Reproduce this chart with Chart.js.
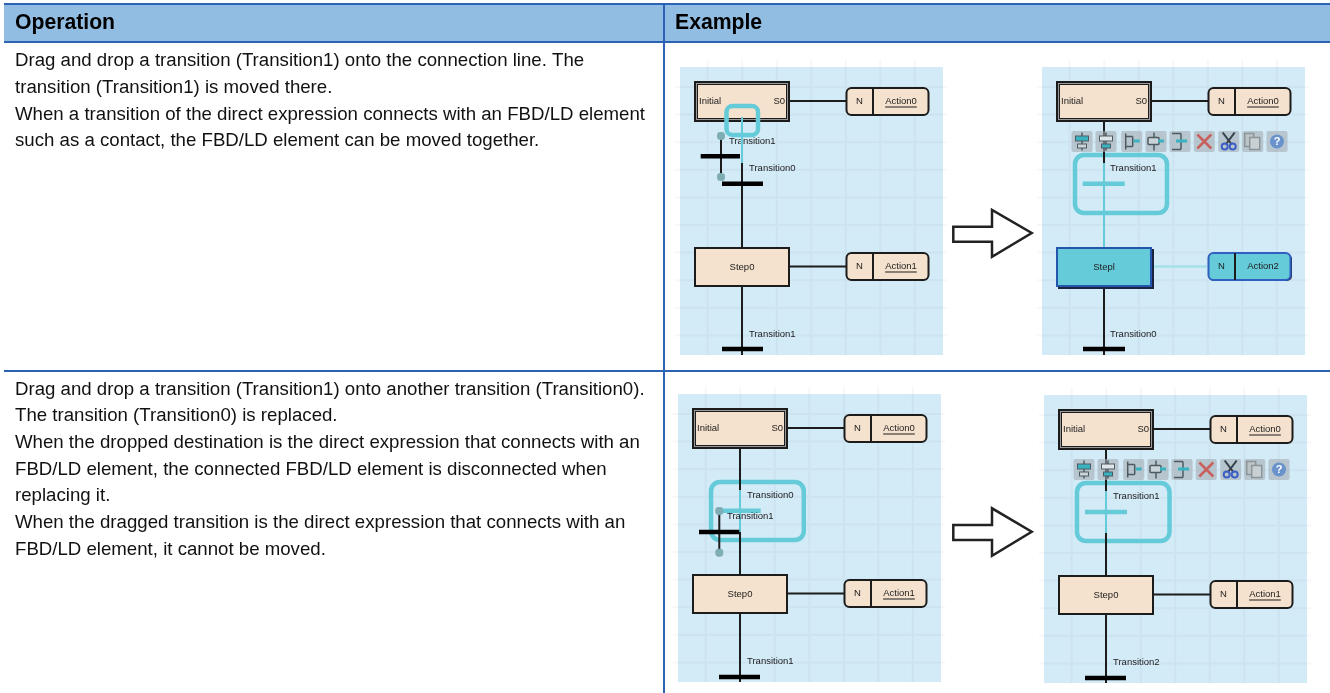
<!DOCTYPE html>
<html>

<head>
    <meta charset="utf-8">
    <script src="https://cdn.jsdelivr.net/npm/chart.js@4/dist/chart.umd.min.js"></script>
    <style>
        html, body { margin: 0; padding: 0; background: #fff; }
        canvas { display: block; }
    </style>
</head>

<body>
    <canvas id="sheet" width="1330" height="693"></canvas>
    <script>
        // table text
        const headerLabels = ['Operation', 'Example'];
        const headerX = [15, 675];
        const rowOneLines = [
            'Drag and drop a transition (Transition1) onto the connection line. The',
            'transition (Transition1) is moved there.',
            'When a transition of the direct expression connects with an FBD/LD element',
            'such as a contact, the FBD/LD element can be moved together.'
        ];
        const rowOneY = [60.5, 87.5, 114.5, 140.5];
        const rowTwoLines = [
            'Drag and drop a transition (Transition1) onto another transition (Transition0).',
            'The transition (Transition0) is replaced.',
            'When the dropped destination is the direct expression that connects with an',
            'FBD/LD element, the connected FBD/LD element is disconnected when',
            'replacing it.',
            'When the dragged transition is the direct expression that connects with an',
            'FBD/LD element, it cannot be moved.'
        ];
        const rowTwoY = [389.5, 415.5, 442.5, 469.5, 495.5, 522.5, 549.5];

        // table rules: x1, y1, x2, y2
        const tableRules = [
            [4, 4, 1330, 4],
            [4, 42, 1330, 42],
            [4, 371, 1330, 371],
            [664, 4, 664, 693]
        ];

        // top-left corner of each screenshot
        const panelX = [680, 1042, 678, 1044];
        const panelY = [67, 67, 394, 395];
        const panelW = 262;
        const panelH = 288;
        const gridXs = [27.7, 62.3, 96.8, 131.3, 165.8, 200.3, 234.8];
        const gridYs = [20, 47.6, 75.2, 102.8, 130.4, 158, 185.6, 213.2, 240.8, 268.4];

        // transition labels per panel: text, x, y (panel units)
        const panelLabels = [
            [['Transition0', 69, 101], ['Transition1', 69, 267]],
            [['Transition1', 68, 101], ['Transition0', 68, 267]],
            [['Transition0', 69, 101], ['Transition1', 49, 122], ['Transition1', 69, 267]],
            [['Transition1', 69, 101], ['Transition2', 69, 267]]
        ];
        const ghostLabelA = ['Transition1', 49, 74.5];
        const stepNames = ['Step0', 'Stepl', 'Step0', 'Step0'];
        const topActions = ['Action0', 'Action0', 'Action0', 'Action0'];
        const lowerActions = ['Action1', 'Action2', 'Action1', 'Action1'];

        // connectors per panel: x1, y1, x2, y2 (panel units)
        const blackLines = [
            [[62, 96, 62, 180], [62, 220, 62, 288], [41, 69, 41, 110], [110, 34, 166, 34], [110, 199.5, 166, 199.5]],
            [[62, 55, 62, 96], [62, 220, 62, 288], [110, 34, 166, 34]],
            [[62, 55, 62, 96], [62, 138, 62, 180], [62, 220, 62, 288], [41.3, 117, 41.3, 158.7], [110, 34, 166, 34], [110, 199.5, 166, 199.5]],
            [[62, 55, 62, 96], [62, 138, 62, 180], [62, 220, 62, 288], [110, 34, 166, 34], [110, 199.5, 166, 199.5]]
        ];
        const blackBars = [
            [[42, 116.7, 83, 116.7], [20.7, 89.3, 60, 89.3], [42, 282, 83, 282]],
            [[41, 282, 83, 282]],
            [[21, 138, 61.3, 138], [41, 283, 82, 283]],
            [[41, 283, 82, 283]]
        ];
        const tealLines = [
            [[62, 55, 62, 96]],
            [[62, 96, 62, 180]],
            [[62, 96, 62, 138]],
            [[62, 96, 62, 138]]
        ];
        const tealBars = [
            [],
            [[40.7, 116.7, 82.7, 116.7]],
            [[41.3, 116.7, 82.7, 116.7]],
            [[41, 117, 83, 117]]
        ];
        const ghostDots = [
            [[41, 69], [41, 110]],
            [],
            [[41.3, 117], [41.3, 158.7]],
            []
        ];
        // drag frames: x1, y1, x2, y2, radius
        const dragFrames = [
            [46.5, 39, 78, 68, 6],
            [33, 88, 125, 146, 9],
            [33, 88, 125.8, 146, 9],
            [33, 88, 125.5, 146, 9]
        ];
        const activeConnector = [110, 199.5, 165, 199.5];

        // big outline arrows between the screenshots
        const arrowOne = [[953.3, 226.7], [992, 226.7], [992, 210], [1031.7, 233], [992, 256.7], [992, 241.7], [953.3, 241.7], [953.3, 226.7]];
        const arrowTwo = [[953.3, 525], [992, 525], [992, 508.3], [1031.7, 531.7], [992, 555.7], [992, 540], [953.3, 540], [953.3, 525]];

        // toolbar shown in panels 1 and 3
        const toolbarX = [40, 64, 89.7, 114, 138, 162.3, 186.7, 210.7, 235];
        const toolbarPanels = [1, 3];

        const boxFill = '#f5e2ce';
        const ink = '#1c1c1c';
        const teal = '#65cbd9';

        function segments(list, ox, oy, out) {
            list.forEach(function (s) {
                out.push({ x: ox + s[0], y: oy + s[1] }, { x: ox + s[2], y: oy + s[3] }, { x: null, y: null });
            });
        }

        function collect(source) {
            const out = [];
            source.forEach(function (list, i) { segments(list, panelX[i], panelY[i], out); });
            return out;
        }

        function gridPoints() {
            const out = [];
            panelX.forEach(function (ox, i) {
                const oy = panelY[i];
                gridXs.forEach(function (g) { segments([[g, -7, g, panelH]], ox, oy, out); });
                gridYs.forEach(function (g) { segments([[-5, g, panelW + 5, g]], ox, oy, out); });
            });
            return out;
        }

        function lineSet(label, data, color, width, order) {
            return { label: label, data: data, borderColor: color, borderWidth: width, order: order, showLine: true, pointRadius: 0, spanGaps: false, borderCapStyle: 'butt' };
        }

        const dotData = [];
        ghostDots.forEach(function (list, i) {
            list.forEach(function (d) { dotData.push({ x: panelX[i] + d[0], y: panelY[i] + d[1] }); });
        });

        const ruleData = [];
        segments(tableRules, 0, 0, ruleData);

        const datasets = [
            lineSet('grid', gridPoints(), 'rgba(140,165,175,0.09)', 2, 6),
            lineSet('black', collect(blackLines), ink, 2, 5),
            lineSet('activeConnector', (function () { const o = []; segments([activeConnector], panelX[1], panelY[1], o); return o; })(), '#a6e0e8', 2.5, 5),
            lineSet('teal', collect(tealLines), teal, 2, 4),
            lineSet('blackBars', collect(blackBars), '#000', 4.5, 3),
            lineSet('tealBars', collect(tealBars), teal, 4.5, 3),
            lineSet('rules', ruleData, '#2b62b2', 2, 2),
            { label: 'dots', data: dotData, showLine: false, pointStyle: 'rectRounded', pointRadius: 4, backgroundColor: '#7fadb5', borderColor: '#7fadb5', order: 1 }
        ];

        const sheetPlugin = {
            id: 'sheet',
            beforeDatasetsDraw: function (chart) {
                const g = helpers(chart);
                g.fillRect(4, 4, 1330, 42, '#92bde2');
                panelX.forEach(function (ox, i) {
                    g.fillRect(ox, panelY[i], ox + panelW + 1, panelY[i] + panelH, '#d3eaf7');
                });
            },
            afterDatasetDraw: function (chart, args) {
                if (chart.data.datasets[args.index].label !== 'grid') return;
                const g = helpers(chart);
                g.text(ghostLabelA[0], panelX[0] + ghostLabelA[1], panelY[0] + ghostLabelA[2], '9.5px "Liberation Sans"', ink);
                dragFrames.forEach(function (f, i) {
                    if (i > 0) g.roundBox(panelX[i] + f[0], panelY[i] + f[1], panelX[i] + f[2], panelY[i] + f[3], f[4], null, teal, 4.5);
                });
            },
            afterDatasetsDraw: function (chart) {
                const g = helpers(chart);
                panelX.forEach(function (ox, i) {
                    const oy = panelY[i];
                    drawInitial(g, ox, oy);
                    drawStep(g, ox, oy, stepNames[i], i === 1);
                    drawAction(g, ox, oy + 21, topActions[i], false);
                    drawAction(g, ox, oy + 186, lowerActions[i], i === 1);
                    panelLabels[i].forEach(function (l) {
                        g.text(l[0], ox + l[1], oy + l[2], '9.5px "Liberation Sans"', ink);
                    });
                });
                // first frame sits on top of the Initial box
                const f = dragFrames[0];
                g.roundBox(panelX[0] + f[0], panelY[0] + f[1], panelX[0] + f[2], panelY[0] + f[3], f[4], null, teal, 4.5);
                g.line(panelX[0] + 62, panelY[0] + 50, panelX[0] + 62, panelY[0] + 60, teal, 2);

                toolbarPanels.forEach(function (p) { drawToolbar(g, panelX[p], panelY[p]); });
                drawArrow(g, arrowOne);
                drawArrow(g, arrowTwo);

                const headFont = 'bold 21.2px "Liberation Sans"';
                headerLabels.forEach(function (t, i) { g.text(t, headerX[i], 23.5, headFont, '#000'); });
                const bodyFont = '18.65px "Liberation Sans"';
                rowOneLines.forEach(function (t, i) { g.text(t, 15, rowOneY[i], bodyFont, '#111'); });
                rowTwoLines.forEach(function (t, i) { g.text(t, 15, rowTwoY[i], bodyFont, '#111'); });
            }
        };

        function helpers(chart) {
            const ctx = chart.ctx;
            const sx = function (v) { return chart.scales.x.getPixelForValue(v); };
            const sy = function (v) { return chart.scales.y.getPixelForValue(v); };
            return {
                ctx: ctx, sx: sx, sy: sy,
                fillRect: function (x1, y1, x2, y2, color) {
                    ctx.fillStyle = color;
                    ctx.fillRect(sx(x1), sy(y1), sx(x2) - sx(x1), sy(y2) - sy(y1));
                },
                roundBox: function (x1, y1, x2, y2, r, fill, stroke, width) {
                    ctx.beginPath();
                    ctx.roundRect(sx(x1), sy(y1), sx(x2) - sx(x1), sy(y2) - sy(y1), r);
                    if (fill) { ctx.fillStyle = fill; ctx.fill(); }
                    if (stroke) { ctx.strokeStyle = stroke; ctx.lineWidth = width; ctx.stroke(); }
                },
                line: function (x1, y1, x2, y2, color, width) {
                    ctx.beginPath();
                    ctx.moveTo(sx(x1), sy(y1));
                    ctx.lineTo(sx(x2), sy(y2));
                    ctx.strokeStyle = color;
                    ctx.lineWidth = width;
                    ctx.stroke();
                },
                text: function (t, x, y, font, color, align) {
                    ctx.font = font;
                    ctx.fillStyle = color;
                    ctx.textAlign = align || 'left';
                    ctx.textBaseline = 'middle';
                    ctx.fillText(t, sx(x), sy(y));
                }
            };
        }

        function drawInitial(g, ox, oy) {
            g.fillRect(ox + 14, oy + 14, ox + 110, oy + 55, ink);
            g.fillRect(ox + 16, oy + 16, ox + 108, oy + 53, '#9a9a9a');
            g.fillRect(ox + 17, oy + 17, ox + 107, oy + 52, ink);
            g.fillRect(ox + 18, oy + 18, ox + 106, oy + 51, boxFill);
            g.text('Initial', ox + 19, oy + 34.5, '9.5px "Liberation Sans"', ink);
            g.text('S0', ox + 105, oy + 34.5, '9.5px "Liberation Sans"', ink, 'right');
        }

        function drawStep(g, ox, oy, name, active) {
            if (active) {
                g.fillRect(ox + 16, oy + 182, ox + 112, oy + 222, '#1a2340');
                g.fillRect(ox + 14, oy + 180, ox + 110, oy + 220, '#2456ad');
                g.fillRect(ox + 16, oy + 182, ox + 108, oy + 218, teal);
            } else {
                g.fillRect(ox + 14, oy + 180, ox + 110, oy + 220, ink);
                g.fillRect(ox + 16, oy + 182, ox + 108, oy + 218, boxFill);
            }
            g.text(name, ox + 62, oy + 200, '9.5px "Liberation Sans"', ink, 'center');
        }

        function drawAction(g, ox, top, name, active) {
            if (active) {
                g.roundBox(ox + 167, top + 1, ox + 250, top + 28, 5, '#1a2340');
            }
            g.roundBox(ox + 166.5, top, ox + 248.5, top + 27, 5, active ? teal : boxFill, active ? '#2f5fc0' : ink, 2);
            g.line(ox + 193, top, ox + 193, top + 27, ink, 2);
            const mid = top + 13.5;
            g.text('N', ox + 179.5, mid, '9.5px "Liberation Sans"', ink, 'center');
            g.text(name, ox + 221, mid, '9.5px "Liberation Sans"', ink, 'center');
            if (!active) {
                const w = g.ctx.measureText(name).width;
                g.line(ox + 221 - w / 2, mid + 5.5, ox + 221 + w / 2, mid + 5.5, ink, 1);
            }
        }

        function drawArrow(g, pts) {
            const ctx = g.ctx;
            ctx.beginPath();
            pts.forEach(function (p, i) {
                if (i === 0) ctx.moveTo(g.sx(p[0]), g.sy(p[1]));
                else ctx.lineTo(g.sx(p[0]), g.sy(p[1]));
            });
            ctx.closePath();
            ctx.fillStyle = '#fff';
            ctx.fill();
            ctx.strokeStyle = '#222';
            ctx.lineWidth = 2.5;
            ctx.stroke();
        }

        function drawToolbar(g, ox, oy) {
            const cy = oy + 74.5;
            const dark = '#4f5a60';
            const tl = '#37b3c2';
            toolbarX.forEach(function (tx, i) {
                const c = ox + tx;
                g.roundBox(c - 10.5, cy - 10.5, c + 10.5, cy + 10.5, 2, 'rgba(165,172,178,0.6)');
                if (i === 0 || i === 1) {
                    g.line(c, cy - 9, c, cy + 9, dark, 1.5);
                    g.fillRect(c - 7, cy - 6, c + 7, cy, dark);
                    g.fillRect(c - 6, cy - 5, c + 6, cy - 1, i === 0 ? tl : '#dfe6ea');
                    g.fillRect(c - 5, cy + 2, c + 5, cy + 7, dark);
                    g.fillRect(c - 4, cy + 3, c + 4, cy + 6, i === 0 ? '#c9d3d8' : tl);
                } else if (i === 2) {
                    g.line(c - 6, cy - 8, c - 6, cy + 8, dark, 1.5);
                    g.line(c - 6, cy - 5, c + 1, cy - 5, dark, 1.5);
                    g.line(c - 6, cy + 5, c + 1, cy + 5, dark, 1.5);
                    g.line(c + 1, cy - 5, c + 1, cy + 5, dark, 1.5);
                    g.fillRect(c + 2, cy - 2, c + 8, cy + 1, tl);
                } else if (i === 3) {
                    g.line(c - 2, cy - 9, c - 2, cy + 9, dark, 1.5);
                    g.roundBox(c - 8, cy - 4, c + 3, cy + 3, 1, '#c9d3d8', dark, 1.5);
                    g.fillRect(c + 2, cy - 2, c + 8, cy + 1, tl);
                } else if (i === 4) {
                    g.line(c - 8, cy - 8, c + 1, cy - 8, dark, 1.5);
                    g.line(c + 1, cy - 8, c + 1, cy + 8, dark, 1.5);
                    g.line(c - 8, cy + 8, c + 1, cy + 8, dark, 1.5);
                    g.fillRect(c - 4, cy - 2, c + 7, cy + 1, tl);
                } else if (i === 5) {
                    g.line(c - 7, cy - 7, c + 7, cy + 7, '#c8605e', 2.5);
                    g.line(c + 7, cy - 7, c - 7, cy + 7, '#c8605e', 2.5);
                } else if (i === 6) {
                    g.line(c - 6, cy - 9, c + 3, cy + 3, '#333f4a', 2);
                    g.line(c + 6, cy - 9, c - 3, cy + 3, '#333f4a', 2);
                    g.roundBox(c - 7, cy + 2, c - 1, cy + 8, 3, null, '#3d5fc4', 2);
                    g.roundBox(c + 1, cy + 2, c + 7, cy + 8, 3, null, '#3d5fc4', 2);
                } else if (i === 7) {
                    g.roundBox(c - 8, cy - 8, c + 1, cy + 5, 0, '#bcc4c8', '#8b9499', 1.5);
                    g.roundBox(c - 3, cy - 4, c + 7, cy + 8, 0, '#c9d0d4', '#8b9499', 1.5);
                } else {
                    g.roundBox(c - 7, cy - 7, c + 7, cy + 7, 7, '#6a93cc');
                    g.text('?', c, cy + 0.5, 'bold 11px "Liberation Sans"', '#fff', 'center');
                }
            });
        }

        new Chart(document.getElementById('sheet').getContext('2d'), {
            type: 'scatter',
            data: { datasets: datasets },
            options: {
                responsive: false,
                animation: false,
                layout: { padding: 0, autoPadding: false },
                events: [],
                plugins: { legend: { display: false }, tooltip: { enabled: false } },
                scales: {
                    x: { type: 'linear', min: 0, max: 1330, display: false },
                    y: { type: 'linear', min: 0, max: 693, reverse: true, display: false }
                }
            },
            plugins: [sheetPlugin]
        });
    </script>
</body>

</html>
